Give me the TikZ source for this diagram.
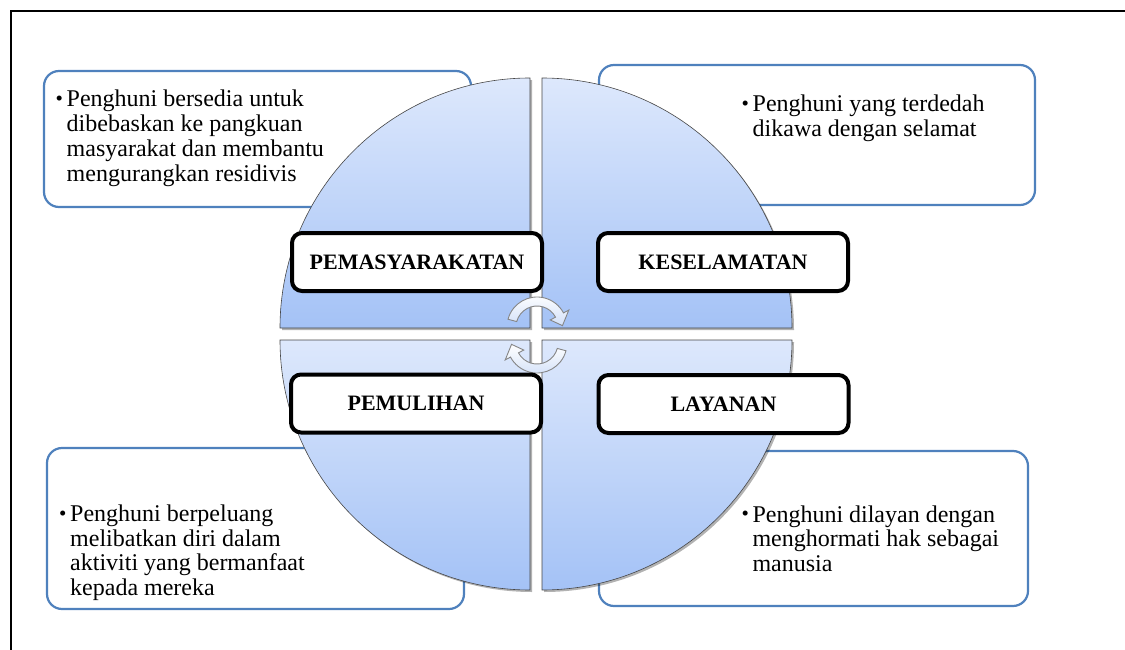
\documentclass[tikz,border=0pt]{standalone}
\usepackage{fontspec}
\setmainfont{Liberation Serif}
\usetikzlibrary{calc,shadows}
\definecolor{boxblue}{HTML}{4F81BD}
\definecolor{qlight}{HTML}{DDE8FC}
\definecolor{qdark}{HTML}{A4C2F6}
\definecolor{arrowedge}{HTML}{858585}
\definecolor{arrowfill}{HTML}{D2E0F8}
\newcommand{\bul}{\makebox[11pt][l]{\raisebox{1.5pt}{\fontsize{21}{21}\selectfont •}}}
\begin{document}
\begin{tikzpicture}[x=1pt,y=-1pt,
  txtbox/.style={draw=boxblue, line width=2.2pt, rounded corners=15pt, fill=white},
  txt/.style={anchor=base west, inner sep=0pt, font=\fontsize{24}{24.7}\selectfont},
  lbl/.style={draw=black, line width=4pt, rounded corners=10pt, fill=white,
    minimum width=250pt, minimum height=58pt, inner sep=0pt,
    font=\bfseries\fontsize{22}{24}\selectfont},
  quad/.style={top color=qlight, bottom color=qdark, draw=gray!55!black, line width=0.6pt,
    drop shadow={shadow xshift=2pt, shadow yshift=-2pt, opacity=0.3, fill=black}},
  cyc/.style={top color=white, bottom color=arrowfill, draw=arrowedge, line width=0.9pt},
  frame/.style={draw=black, line width=2pt}]
\useasboundingbox (0,0) rectangle (1125,650);
% frame
\draw[frame] (1125,11) -- (10.5,11) -- (10.5,650);

% text boxes
\draw[txtbox] (44,71) rectangle (471,207);
\draw[txtbox] (599,65) rectangle (1035,205);
\draw[txtbox] (47,448) rectangle (464,609);
\draw[txtbox] (599,451) rectangle (1028,606);

\node[txt] (tl) at (55.5,107) {\begin{tabular}[t]{@{}l@{}l@{}}\bul & Penghuni bersedia untuk\\ & dibebaskan ke pangkuan\\ & masyarakat dan membantu\\ & mengurangkan residivis\end{tabular}};
\node[txt] (tr) at (741.5,112) {\begin{tabular}[t]{@{}l@{}l@{}}\bul & Penghuni yang terdedah\\ & dikawa dengan selamat\end{tabular}};
\node[txt] (bl) at (59,521.5) {\begin{tabular}[t]{@{}l@{}l@{}}\bul & Penghuni berpeluang\\ & melibatkan diri dalam\\ & aktiviti yang bermanfaat\\ & kepada mereka\end{tabular}};
\node[txt] (br) at (741.3,522) {\begin{tabular}[t]{@{}l@{}l@{}}\bul & Penghuni dilayan dengan\\ & menghormati hak sebagai\\ & manusia\end{tabular}};

% circle quadrants
\path[quad] (530,328) -- ++(-250,0) arc[start angle=180, end angle=270, radius=250] -- cycle;
\path[quad] (542,328) -- ++(0,-250) arc[start angle=270, end angle=360, radius=250] -- cycle;
\path[quad] (542,340) -- ++(250,0) arc[start angle=0, end angle=90, radius=250] -- cycle;
\path[quad] (530,340) -- ++(0,250) arc[start angle=90, end angle=180, radius=250] -- cycle;

% cycle arrows
\coordinate (c1) at (537,327);
\coordinate (c2) at (537,343);
\path[cyc] ($(c1)+(-165:30)$) arc[start angle=-165, end angle=-28, radius=30]
  -- ($(c1)+(-28:36)$) -- ($(c1)+(-3:25.5)$) -- ($(c1)+(-28:15)$) -- ($(c1)+(-28:21)$)
  arc[start angle=-28, end angle=-165, radius=21] -- cycle;
\path[cyc] ($(c2)+(15:30)$) arc[start angle=15, end angle=152, radius=30]
  -- ($(c2)+(152:36)$) -- ($(c2)+(177:25.5)$) -- ($(c2)+(152:15)$) -- ($(c2)+(152:21)$)
  arc[start angle=152, end angle=15, radius=21] -- cycle;

% labels
\node[lbl] (pem) at (417,262) {PEMASYARAKATAN};
\node[lbl] (kes) at (723,262) {KESELAMATAN};
\node[lbl] (pml) at (416,403.5) {PEMULIHAN};
\node[lbl] (lay) at (723.5,404) {LAYANAN};
\end{tikzpicture}
\end{document}
